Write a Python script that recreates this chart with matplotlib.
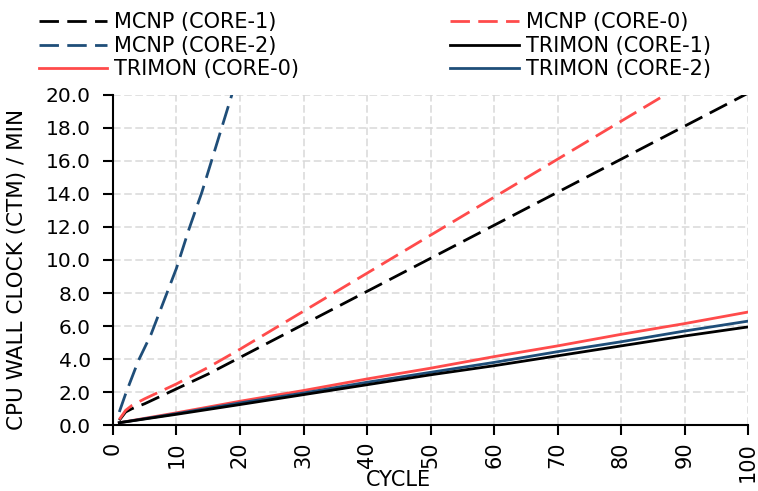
import matplotlib
matplotlib.use("Agg")
import matplotlib.pyplot as plt
from matplotlib.lines import Line2D

# cycles and CPU wall clock values (min)
cycles = [1, 2, 3, 5, 10, 15, 20, 30, 40, 50, 60, 70, 80, 90, 100]
mcnp_core1 = [0.3, 0.8, 1.0, 1.3, 2.2, 3.1, 4.1, 6.1, 8.1, 10.1, 12.1, 14.1, 16.1, 18.1, 20.1]
mcnp_core0 = [0.35, 0.9, 1.2, 1.6, 2.5, 3.5, 4.6, 6.9, 9.2, 11.5, 13.8, 16.1, 18.4, 20.7, 23.0]

cycles_core2 = [1, 2, 4, 6, 8, 10, 12, 14, 16, 18, 20]
mcnp_core2 = [0.8, 1.9, 3.9, 5.5, 7.5, 9.5, 11.9, 14.1, 16.6, 19.1, 21.6]

cycles_trimon = [1, 10, 20, 30, 40, 50, 60, 70, 80, 90, 100]
trimon_core0 = [0.15, 0.75, 1.45, 2.1, 2.8, 3.45, 4.15, 4.8, 5.5, 6.15, 6.85]
trimon_core1 = [0.15, 0.66, 1.25, 1.85, 2.45, 3.05, 3.6, 4.2, 4.8, 5.4, 5.95]
trimon_core2 = [0.15, 0.7, 1.35, 1.95, 2.6, 3.2, 3.8, 4.45, 5.05, 5.7, 6.3]

x_ticks = list(range(0, 101, 10))
y_ticks = [0, 2, 4, 6, 8, 10, 12, 14, 16, 18, 20]

RED = "#ff4b4b"
BLUE = "#1f4e79"
BLACK = "#000000"
DASH = (7, 3)
LW = 2.0

fig = plt.figure(figsize=(7.58, 4.91), dpi=100)
ax = fig.add_axes([0.149, 0.134, 0.838, 0.673])

ax.plot(cycles, mcnp_core1, color=BLACK, lw=LW, dashes=DASH)
ax.plot(cycles, mcnp_core0, color=RED, lw=LW, dashes=DASH)
ax.plot(cycles_core2, mcnp_core2, color=BLUE, lw=LW, dashes=DASH)
ax.plot(cycles_trimon, trimon_core0, color=RED, lw=LW)
ax.plot(cycles_trimon, trimon_core2, color=BLUE, lw=LW)
ax.plot(cycles_trimon, trimon_core1, color=BLACK, lw=LW)

ax.set_xlim(0, 100)
ax.set_ylim(0, 20)
ax.set_xticks(x_ticks)
ax.set_yticks(y_ticks)
ax.set_yticklabels([f"{v:.1f}" for v in y_ticks], fontsize=14.5)
ax.set_xticklabels([str(v) for v in x_ticks], fontsize=15, rotation=90)

ax.grid(True, color="#d9d9d9", lw=1.1, linestyle=(0, (5, 2.3)))
ax.set_axisbelow(True)
for side in ("top", "right"):
    ax.spines[side].set_visible(False)
for side in ("left", "bottom"):
    ax.spines[side].set_linewidth(1.5)
ax.tick_params(axis="both", direction="out", length=7, width=1.5)
ax.tick_params(axis="x", pad=5)
ax.tick_params(axis="y", pad=9)

ax.set_xlabel("CYCLE", fontsize=15)
ax.xaxis.set_label_coords(0.45, -0.135)
ax.set_ylabel("CPU WALL CLOCK (CTM) / MIN", fontsize=15.5)
ax.yaxis.set_label_coords(-0.135, 0.47)


def handle(color, dashed):
    if dashed:
        return Line2D([], [], color=color, lw=LW, dashes=DASH)
    return Line2D([], [], color=color, lw=LW)


legend_kw = dict(frameon=False, fontsize=15, handlelength=3.3, handletextpad=0.33,
                 labelspacing=0.17, borderpad=0, borderaxespad=0, loc="upper left")

leg1 = fig.legend([handle(BLACK, True), handle(BLUE, True), handle(RED, False)],
                  ["MCNP (CORE-1)", "MCNP (CORE-2)", "TRIMON (CORE-0)"],
                  bbox_to_anchor=(0.051, 0.975), **legend_kw)
leg2 = fig.legend([handle(RED, True), handle(BLACK, False), handle(BLUE, False)],
                  ["MCNP (CORE-0)", "TRIMON (CORE-1)", "TRIMON (CORE-2)"],
                  bbox_to_anchor=(0.594, 0.975), **legend_kw)

fig.savefig("out.png", dpi=100)
